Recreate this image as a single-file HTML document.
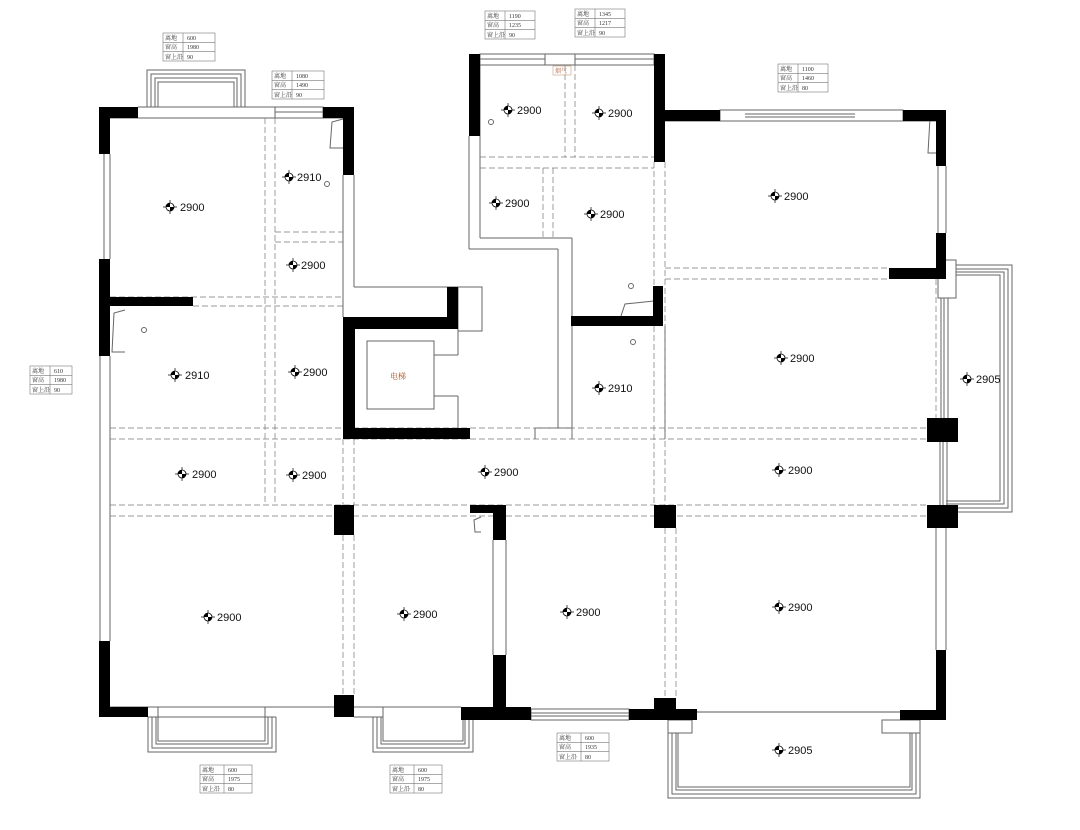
<!DOCTYPE html>
<html><head><meta charset="utf-8"><style>
html,body{margin:0;padding:0;background:#fff;}
svg{display:block;}
.t{font-family:"Liberation Sans",sans-serif;font-size:11px;fill:#111;}
.s{font-family:"Liberation Serif","Noto Serif CJK SC",serif;font-size:6px;fill:#333;}
</style></head><body>
<svg width="1080" height="830" viewBox="0 0 1080 830" xmlns="http://www.w3.org/2000/svg">
<defs>
<g id="m"><line x1="-7" y1="0" x2="7" y2="0" stroke="#000" stroke-width="0.7"/><line x1="0" y1="-7" x2="0" y2="7" stroke="#000" stroke-width="0.7"/><circle r="4" fill="#fff" stroke="#000" stroke-width="0.8"/><path d="M0 0 L4 0 A4 4 0 0 1 0 4 Z M0 0 L-4 0 A4 4 0 0 1 0 -4 Z" fill="#000"/></g>
</defs>
<g fill="none" stroke="#666" stroke-width="1">
<line x1="110" y1="154" x2="110" y2="259"/><line x1="104" y1="154" x2="104" y2="259"/>
<line x1="110" y1="356" x2="110" y2="641"/><line x1="100" y1="356" x2="100" y2="641"/>
<line x1="110" y1="118" x2="343" y2="118"/>
<line x1="354" y1="175" x2="354" y2="287"/><line x1="343" y1="175" x2="343" y2="317"/>
<line x1="354" y1="287" x2="482" y2="287"/><rect x="458" y="287" width="24" height="44"/>
<line x1="458" y1="331" x2="458" y2="355"/><line x1="434" y1="355" x2="458" y2="355"/>
<line x1="434" y1="396" x2="458" y2="396"/><line x1="458" y1="396" x2="458" y2="428"/>
<rect x="367" y="341" width="67" height="68"/>
<line x1="469" y1="136" x2="469" y2="249"/><line x1="480" y1="65" x2="480" y2="238"/>
<line x1="469" y1="249" x2="558" y2="249"/><line x1="480" y1="238" x2="572" y2="238"/>
<line x1="558" y1="249" x2="558" y2="428"/><line x1="572" y1="238" x2="572" y2="439"/>
<line x1="535" y1="428" x2="572" y2="428"/><line x1="535" y1="428" x2="535" y2="439"/>
<line x1="665" y1="121" x2="936" y2="121"/>
<line x1="946" y1="166" x2="946" y2="233"/><line x1="938" y1="166" x2="938" y2="233"/>
<line x1="665" y1="326" x2="665" y2="439"/>
<line x1="946" y1="528" x2="946" y2="650"/><line x1="936" y1="528" x2="936" y2="650"/>
<line x1="493" y1="540" x2="493" y2="655"/><line x1="506" y1="540" x2="506" y2="655"/>
<line x1="110" y1="707" x2="334" y2="707"/><line x1="354" y1="707" x2="461" y2="707"/>
<rect x="480" y="54" width="174" height="11"/><line x1="480" y1="59" x2="545" y2="59"/><line x1="575" y1="59" x2="654" y2="59"/>
<rect x="545" y="54" width="30" height="11"/>
<rect x="275" y="107" width="48" height="11"/><line x1="275" y1="112" x2="323" y2="112"/>
<rect x="720" y="110" width="183" height="11"/><line x1="745" y1="114" x2="855" y2="114"/><line x1="745" y1="117" x2="855" y2="117"/>
<rect x="531" y="709" width="98" height="11"/><line x1="531" y1="713" x2="629" y2="713"/><line x1="531" y1="716" x2="629" y2="716"/>
<line x1="676" y1="712" x2="900" y2="712" stroke="#aaa" stroke-width="2"/>
<path d="M147 107 V70 H245 V107"/><path d="M151 107 V74 H241 V107"/><path d="M155 107 V78 H237 V107"/>
<path d="M158 107 V82 H234 V107"/><line x1="138" y1="107" x2="275" y2="107"/><line x1="138" y1="118" x2="275" y2="118"/>
<path d="M148 717 V752 H276 V717"/><path d="M152 717 V748 H272 V717"/><path d="M156 717 V744 H268 V717"/><path d="M158 717 V741 H265 V717"/>
<line x1="148" y1="717" x2="276" y2="717"/><line x1="158" y1="707" x2="158" y2="717"/><line x1="265" y1="707" x2="265" y2="717"/>
<path d="M373 717 V752 H473 V717"/><path d="M377 717 V748 H469 V717"/><path d="M381 717 V744 H465 V717"/><path d="M383 707 V741 H463 V717"/>
<line x1="354" y1="717" x2="383" y2="717"/>
<rect x="668" y="720" width="24" height="13"/><rect x="882" y="720" width="38" height="13"/>
<path d="M668 733 V798 H920 V733"/><path d="M672 733 V794 H916 V733"/><path d="M676 733 V790 H912 V733"/><path d="M678 733 V787 H910 V733"/>
<rect x="938" y="260" width="18" height="38"/>
<path d="M956 265 H1012 V512 H946"/><path d="M956 269 H1008 V508 H946"/><path d="M956 272 H1004 V504 H946"/><path d="M956 275 H1000 V501 H946"/>
<line x1="941" y1="298" x2="941" y2="418"/><line x1="944" y1="298" x2="944" y2="418"/><line x1="948" y1="298" x2="948" y2="418"/>
<line x1="940" y1="442" x2="940" y2="505"/><line x1="943" y1="442" x2="943" y2="505"/><line x1="947" y1="442" x2="947" y2="505"/>
<path d="M343 119 L332 122 L330 148 L343 148"/><path d="M125 310 L114 313 L112 352 L125 352"/>
<path d="M942 114 L930 118 L928 153 L942 153"/><path d="M654 301 L625 304 L621 316"/><path d="M481 517 L474 520 L475 532 L481 532"/>
<circle cx="327" cy="184" r="2.5"/><circle cx="144" cy="330" r="2.5"/><circle cx="491" cy="122" r="2.5"/><circle cx="631" cy="286" r="2.5"/><circle cx="633" cy="342" r="2.5"/>
</g>
<g stroke="#777" stroke-width="0.7" stroke-dasharray="6,3" fill="none">
<line x1="110" y1="297" x2="343" y2="297"/><line x1="193" y1="306" x2="343" y2="306"/>
<line x1="110" y1="428" x2="927" y2="428"/><line x1="110" y1="439" x2="927" y2="439"/>
<line x1="110" y1="505" x2="927" y2="505"/><line x1="110" y1="516" x2="927" y2="516"/>
<line x1="665" y1="268" x2="889" y2="268"/><line x1="665" y1="279" x2="889" y2="279"/>
<line x1="265" y1="118" x2="265" y2="505"/><line x1="275" y1="118" x2="275" y2="505"/>
<line x1="275" y1="232" x2="343" y2="232"/><line x1="275" y1="242" x2="343" y2="242"/>
<line x1="343" y1="439" x2="343" y2="505"/><line x1="354" y1="439" x2="354" y2="505"/>
<line x1="343" y1="535" x2="343" y2="695"/><line x1="354" y1="535" x2="354" y2="695"/>
<line x1="654" y1="162" x2="654" y2="286"/><line x1="665" y1="162" x2="665" y2="505"/><line x1="654" y1="326" x2="654" y2="505"/>
<line x1="665" y1="528" x2="665" y2="698"/><line x1="676" y1="528" x2="676" y2="698"/>
<line x1="936" y1="279" x2="936" y2="418"/>
<line x1="480" y1="157" x2="654" y2="157"/><line x1="480" y1="168" x2="654" y2="168"/>
<line x1="565" y1="65" x2="565" y2="157"/><line x1="575" y1="65" x2="575" y2="157"/>
<line x1="543" y1="168" x2="543" y2="238"/><line x1="553" y1="168" x2="553" y2="238"/>
<line x1="572" y1="428" x2="572" y2="439"/>
</g>
<g fill="#000">
<rect x="99" y="107" width="39" height="11"/><rect x="99" y="107" width="11" height="47"/>
<rect x="99" y="259" width="11" height="97"/><rect x="99" y="297" width="94" height="9"/>
<rect x="99" y="641" width="11" height="76"/><rect x="99" y="707" width="49" height="10"/>
<rect x="323" y="107" width="31" height="11"/><rect x="343" y="107" width="11" height="68"/>
<rect x="343" y="317" width="12" height="122"/><rect x="343" y="317" width="115" height="12"/>
<rect x="447" y="287" width="11" height="42"/><rect x="343" y="428" width="127" height="11"/>
<rect x="469" y="54" width="11" height="82"/><rect x="654" y="54" width="11" height="108"/><rect x="654" y="110" width="66" height="11"/>
<rect x="571" y="316" width="92" height="10"/><rect x="653" y="286" width="10" height="40"/>
<rect x="903" y="110" width="43" height="11"/><rect x="936" y="110" width="10" height="56"/>
<rect x="936" y="233" width="10" height="46"/><rect x="889" y="268" width="57" height="11"/>
<rect x="927" y="418" width="31" height="24"/><rect x="927" y="505" width="31" height="23"/>
<rect x="936" y="650" width="10" height="70"/><rect x="900" y="710" width="46" height="10"/>
<rect x="654" y="698" width="22" height="22"/><rect x="629" y="709" width="68" height="11"/>
<rect x="461" y="707" width="70" height="13"/><rect x="493" y="655" width="13" height="65"/>
<rect x="493" y="505" width="13" height="35"/><rect x="470" y="505" width="36" height="8"/>
<rect x="334" y="505" width="20" height="30"/><rect x="334" y="695" width="20" height="22"/>
<rect x="654" y="505" width="22" height="23"/>
</g>
<text x="390" y="379" font-family="Liberation Serif,'Noto Serif CJK SC',serif" font-size="8" fill="#b05020">电梯</text>
<rect x="553" y="66" width="18" height="9" fill="none" stroke="#c8a080" stroke-width="0.6"/>
<text x="555" y="73" font-family="'Noto Serif CJK SC',serif" font-size="6" fill="#b06040">烟气</text>
<g class="t">
<use href="#m" x="170" y="207"/><text x="180" y="211">2900</text>
<use href="#m" x="289" y="177"/><text x="297" y="181">2910</text>
<use href="#m" x="293" y="265"/><text x="301" y="269">2900</text>
<use href="#m" x="175" y="375"/><text x="185" y="379">2910</text>
<use href="#m" x="295" y="372"/><text x="303" y="376">2900</text>
<use href="#m" x="182" y="474"/><text x="192" y="478">2900</text>
<use href="#m" x="293" y="475"/><text x="302" y="479">2900</text>
<use href="#m" x="485" y="472"/><text x="494" y="476">2900</text>
<use href="#m" x="208" y="617"/><text x="217" y="621">2900</text>
<use href="#m" x="404" y="614"/><text x="413" y="618">2900</text>
<use href="#m" x="567" y="612"/><text x="576" y="616">2900</text>
<use href="#m" x="779" y="607"/><text x="788" y="611">2900</text>
<use href="#m" x="779" y="470"/><text x="788" y="474">2900</text>
<use href="#m" x="781" y="358"/><text x="790" y="362">2900</text>
<use href="#m" x="967" y="379"/><text x="976" y="383">2905</text>
<use href="#m" x="779" y="750"/><text x="788" y="754">2905</text>
<use href="#m" x="599" y="388"/><text x="608" y="392">2910</text>
<use href="#m" x="775" y="196"/><text x="784" y="200">2900</text>
<use href="#m" x="591" y="214"/><text x="600" y="218">2900</text>
<use href="#m" x="496" y="203"/><text x="505" y="207">2900</text>
<use href="#m" x="508" y="110"/><text x="517" y="114">2900</text>
<use href="#m" x="599" y="113"/><text x="608" y="117">2900</text>
</g>
<g fill="none" stroke="#777" stroke-width="0.6">
<g transform="translate(163,33)"><rect width="52" height="28"/><line x1="0" y1="9.3" x2="52" y2="9.3"/><line x1="0" y1="18.7" x2="52" y2="18.7"/><line x1="20" y1="0" x2="20" y2="28"/></g>
<g transform="translate(272,71)"><rect width="52" height="28"/><line x1="0" y1="9.3" x2="52" y2="9.3"/><line x1="0" y1="18.7" x2="52" y2="18.7"/><line x1="20" y1="0" x2="20" y2="28"/></g>
<g transform="translate(485,11)"><rect width="50" height="28"/><line x1="0" y1="9.3" x2="50" y2="9.3"/><line x1="0" y1="18.7" x2="50" y2="18.7"/><line x1="20" y1="0" x2="20" y2="28"/></g>
<g transform="translate(575,9)"><rect width="50" height="28"/><line x1="0" y1="9.3" x2="50" y2="9.3"/><line x1="0" y1="18.7" x2="50" y2="18.7"/><line x1="20" y1="0" x2="20" y2="28"/></g>
<g transform="translate(778,64)"><rect width="50" height="28"/><line x1="0" y1="9.3" x2="50" y2="9.3"/><line x1="0" y1="18.7" x2="50" y2="18.7"/><line x1="20" y1="0" x2="20" y2="28"/></g>
<g transform="translate(30,366)"><rect width="42" height="28"/><line x1="0" y1="9.3" x2="42" y2="9.3"/><line x1="0" y1="18.7" x2="42" y2="18.7"/><line x1="20" y1="0" x2="20" y2="28"/></g>
<g transform="translate(200,765)"><rect width="52" height="28"/><line x1="0" y1="9.3" x2="52" y2="9.3"/><line x1="0" y1="18.7" x2="52" y2="18.7"/><line x1="24" y1="0" x2="24" y2="28"/></g>
<g transform="translate(390,765)"><rect width="52" height="28"/><line x1="0" y1="9.3" x2="52" y2="9.3"/><line x1="0" y1="18.7" x2="52" y2="18.7"/><line x1="24" y1="0" x2="24" y2="28"/></g>
<g transform="translate(557,733)"><rect width="52" height="28"/><line x1="0" y1="9.3" x2="52" y2="9.3"/><line x1="0" y1="18.7" x2="52" y2="18.7"/><line x1="24" y1="0" x2="24" y2="28"/></g>
</g>
<g class="s">
<text x="165" y="40">离地</text><text x="187" y="40">600</text><text x="165" y="49">窗高</text><text x="187" y="49">1980</text><text x="165" y="59">窗上沿</text><text x="187" y="59">90</text>
<text x="274" y="78">离地</text><text x="296" y="78">1080</text><text x="274" y="87">窗高</text><text x="296" y="87">1490</text><text x="274" y="97">窗上沿</text><text x="296" y="97">90</text>
<text x="487" y="18">离地</text><text x="509" y="18">1190</text><text x="487" y="27">窗高</text><text x="509" y="27">1235</text><text x="487" y="37">窗上沿</text><text x="509" y="37">90</text>
<text x="577" y="16">离地</text><text x="599" y="16">1345</text><text x="577" y="25">窗高</text><text x="599" y="25">1217</text><text x="577" y="35">窗上沿</text><text x="599" y="35">90</text>
<text x="780" y="71">离地</text><text x="802" y="71">1100</text><text x="780" y="80">窗高</text><text x="802" y="80">1460</text><text x="780" y="90">窗上沿</text><text x="802" y="90">80</text>
<text x="32" y="373">离地</text><text x="54" y="373">610</text><text x="32" y="382">窗高</text><text x="54" y="382">1980</text><text x="32" y="392">窗上沿</text><text x="54" y="392">90</text>
<text x="202" y="772">离地</text><text x="228" y="772">600</text><text x="202" y="781">窗高</text><text x="228" y="781">1975</text><text x="202" y="791">窗上沿</text><text x="228" y="791">80</text>
<text x="392" y="772">离地</text><text x="418" y="772">600</text><text x="392" y="781">窗高</text><text x="418" y="781">1975</text><text x="392" y="791">窗上沿</text><text x="418" y="791">80</text>
<text x="559" y="740">离地</text><text x="585" y="740">600</text><text x="559" y="749">窗高</text><text x="585" y="749">1935</text><text x="559" y="759">窗上沿</text><text x="585" y="759">80</text>
</g>
</svg>
</body></html>
